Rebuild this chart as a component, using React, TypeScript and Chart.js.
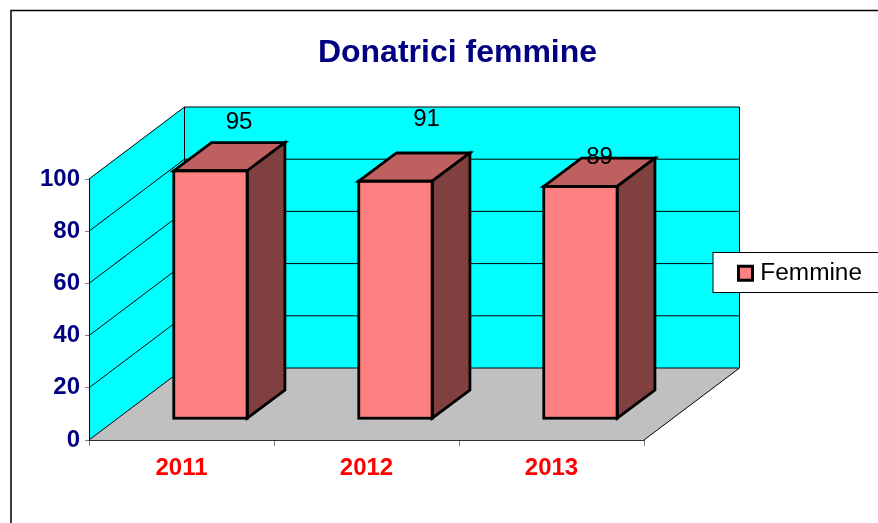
import React, { useEffect, useRef } from "react";
import { Chart, registerables } from "chart.js";

Chart.register(...registerables);

const categories = ["2011", "2012", "2013"];
const femmine = [95, 91, 89];
const seriesName = "Femmine";
const titleText = "Donatrici femmine";
const axisMax = 100;
const axisStep = 20;

const FONT = '"Liberation Sans", Arial, sans-serif';
const WALL_DX = 95.5;
const WALL_DY = 72;
const BAR_OFF_X = 29;
const BAR_OFF_Y = 21.3;
const BAR_DX = 37.7;
const BAR_DY = 28.2;
const LABEL_NUDGE = [
  [28.5, -48.5],
  [31, -62],
  [19, -29],
];

const scene = {
  id: "scene3d",
  afterLayout(chart: any) {
    chart.titleBlock.left = 37;
    chart.titleBlock.right = 878;
    const lg = chart.legend;
    lg.left = 736.5;
    lg.right = 862;
    lg.top = 259;
    lg.bottom = 290;
  },
  beforeDraw(chart: any) {
    const { ctx, chartArea: a, scales } = chart;
    const y = scales.y;
    const x0 = a.left, x1 = a.right, y0 = y.getPixelForValue(0), yT = y.getPixelForValue(axisMax);
    ctx.save();
    // chart frame
    ctx.strokeStyle = "#000";
    ctx.lineWidth = 1.5;
    ctx.strokeRect(11, 10.5, 1000, 1000);
    // walls
    const poly = (pts: number[][], fill: string | null, stroke: string | null, lw = 1) => {
      ctx.beginPath();
      pts.forEach((p, i) => (i ? ctx.lineTo(p[0], p[1]) : ctx.moveTo(p[0], p[1])));
      ctx.closePath();
      if (fill) { ctx.fillStyle = fill; ctx.fill(); }
      if (stroke) { ctx.strokeStyle = stroke; ctx.lineWidth = lw; ctx.stroke(); }
    };
    poly([[x0 + WALL_DX, yT - WALL_DY], [x1 + WALL_DX, yT - WALL_DY], [x1 + WALL_DX, y0 - WALL_DY], [x0 + WALL_DX, y0 - WALL_DY]], "#00FFFF", null);
    poly([[x0, yT], [x0 + WALL_DX, yT - WALL_DY], [x0 + WALL_DX, y0 - WALL_DY], [x0, y0]], "#00FFFF", null);
    poly([[x0, y0], [x1, y0], [x1 + WALL_DX, y0 - WALL_DY], [x0 + WALL_DX, y0 - WALL_DY]], "#C0C0C0", null);
    // grid lines on both walls
    ctx.strokeStyle = "#000";
    ctx.lineWidth = 1;
    for (let v = 0; v <= axisMax; v += axisStep) {
      const py = y.getPixelForValue(v);
      ctx.beginPath();
      ctx.moveTo(x0, py);
      ctx.lineTo(x0 + WALL_DX, py - WALL_DY);
      ctx.lineTo(x1 + WALL_DX, py - WALL_DY);
      ctx.stroke();
    }
    // wall and floor edges
    ctx.beginPath();
    ctx.moveTo(x0 + WALL_DX, yT - WALL_DY);
    ctx.lineTo(x0 + WALL_DX, y0 - WALL_DY);
    ctx.moveTo(x1 + WALL_DX, yT - WALL_DY);
    ctx.lineTo(x1 + WALL_DX, y0 - WALL_DY);
    ctx.lineTo(x1, y0);
    ctx.stroke();
    // legend box
    ctx.fillStyle = "#fff";
    ctx.fillRect(713, 252.5, 300, 40);
    ctx.strokeStyle = "#000";
    ctx.lineWidth = 1;
    ctx.strokeRect(713, 252.5, 300, 40);
    ctx.restore();
  },
  beforeDatasetsDraw(chart: any) {
    chart.ctx.save();
    chart.ctx.translate(BAR_OFF_X, -BAR_OFF_Y);
  },
  afterDatasetsDraw(chart: any) {
    const { ctx } = chart;
    const bars = chart.getDatasetMeta(0).data;
    ctx.lineWidth = 2.8;
    ctx.strokeStyle = "#000";
    ctx.lineJoin = "miter";
    bars.forEach((bar: any) => {
      const { x, y, base, width } = bar.getProps(["x", "y", "base", "width"], true);
      const l = x - width / 2, r = x + width / 2;
      const face = (pts: number[][], fill: string) => {
        ctx.beginPath();
        pts.forEach((p, i) => (i ? ctx.lineTo(p[0], p[1]) : ctx.moveTo(p[0], p[1])));
        ctx.closePath();
        ctx.fillStyle = fill;
        ctx.fill();
        ctx.stroke();
      };
      face([[l, y], [l + BAR_DX, y - BAR_DY], [r + BAR_DX, y - BAR_DY], [r, y]], "#BF6060");
      face([[r, y], [r + BAR_DX, y - BAR_DY], [r + BAR_DX, base - BAR_DY], [r, base]], "#804040");
      ctx.strokeRect(l, y, width, base - y);
    });
    ctx.restore();
    // value labels
    ctx.save();
    ctx.font = `24px ${FONT}`;
    ctx.fillStyle = "#000";
    ctx.textAlign = "center";
    ctx.textBaseline = "middle";
    bars.forEach((bar: any, i: number) => {
      const { x, y } = bar.getProps(["x", "y"], true);
      ctx.fillText(String(femmine[i]), x + BAR_OFF_X + LABEL_NUDGE[i][0], y - BAR_OFF_Y + LABEL_NUDGE[i][1]);
    });
    ctx.restore();
  },
};

export default function App() {
  const ref = useRef<HTMLCanvasElement>(null);
  useEffect(() => {
    const chart = new Chart(ref.current as HTMLCanvasElement, {
      type: "bar",
      data: {
        labels: categories,
        datasets: [
          {
            label: seriesName,
            data: femmine,
            backgroundColor: "#FF8080",
            borderWidth: 0,
            barPercentage: 0.397,
            categoryPercentage: 1,
            clip: false,
          } as any,
        ],
      },
      options: {
        animation: false,
        responsive: false,
        maintainAspectRatio: false,
        events: [],
        layout: { padding: { left: 37, right: 234, top: 0, bottom: 0 } },
        plugins: {
          tooltip: { enabled: false },
          title: {
            display: true,
            text: titleText,
            color: "#000080",
            font: { family: FONT, size: 32, weight: "bold", lineHeight: 1.2 },
            padding: { top: 34.3, bottom: 106.3 },
          },
          legend: {
            display: true,
            position: "chartArea",
            align: "start",
            labels: {
              color: "#000",
              font: { family: FONT, size: 24.4 },
              boxWidth: 14,
              boxHeight: 14,
              padding: 2,
              textAlign: "right",
              generateLabels: () => [
                {
                  text: seriesName,
                  fillStyle: "#FF8080",
                  strokeStyle: "#000",
                  lineWidth: 3,
                  hidden: false,
                  datasetIndex: 0,
                } as any,
              ],
            },
          },
        } as any,
        scales: {
          x: {
            afterFit: (s: any) => { s.height = 83; },
            grid: { display: true, drawOnChartArea: false, drawTicks: true, tickLength: 6, color: "#808080", offset: true },
            border: { display: true, color: "#303030", width: 1 },
            ticks: { color: "#FF0000", font: { family: FONT, size: 24, weight: "bold" }, padding: 8, maxRotation: 0 },
          },
          y: {
            min: 0,
            max: axisMax,
            afterFit: (s: any) => { s.width = 52; },
            grid: { display: true, drawOnChartArea: false, drawTicks: true, tickLength: 4, color: "#808080" },
            border: { display: true, color: "#000", width: 1 },
            ticks: { stepSize: axisStep, color: "#000080", font: { family: FONT, size: 24, weight: "bold" }, padding: 5 },
          },
        },
      } as any,
      plugins: [scene as any],
    });
    return () => chart.destroy();
  }, []);
  return (
    <canvas
      ref={ref}
      width={878}
      height={523}
      style={{ position: "absolute", left: 0, top: 0, display: "block" }}
    />
  );
}
